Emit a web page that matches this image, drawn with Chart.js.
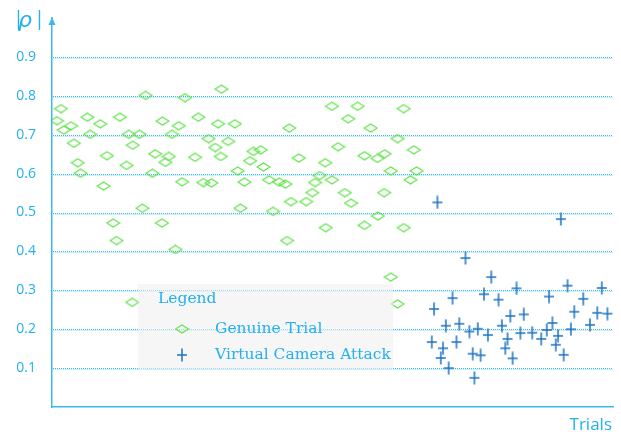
<!DOCTYPE html>
<html>
<head>
<meta charset="utf-8">
<script src="https://cdn.jsdelivr.net/npm/chart.js@4.4.1/dist/chart.umd.min.js"></script>
<style>
  html, body { margin: 0; padding: 0; background: #fff; }
  #wrap { width: 621px; height: 432px; }
</style>
</head>
<body>
<div id="wrap"><canvas id="rho"></canvas></div>
<script>
// |rho| per trial, genuine trials vs virtual camera attacks
const genuineX = [1.6, 0.9, 2.1, 3.4, 3.9, 4.6, 5.1, 6.3, 6.8, 8.6, 9.8, 9.2, 12.1, 13.3, 13.7, 14.4, 15.6, 16.7, 16.1, 17.9,
  18.4, 19.7, 20.2, 20.8, 21.4, 22.6, 23.2, 23.7, 25.5, 26.1, 27.0, 27.9, 28.4, 29.1, 29.6, 30.1, 30.2, 31.4, 32.6, 33.1,
  33.6, 34.3, 35.3, 35.9, 37.2, 37.7, 38.7, 39.4, 40.5, 41.6, 42.3, 42.6, 44.0, 45.3, 46.4, 46.9, 47.7, 48.7, 49.9, 54.5,
  52.8, 56.8, 62.7, 61.6, 51.0, 64.5, 55.7, 58.0, 59.3, 49.9, 60.4, 65.0, 63.9, 52.2, 59.2, 53.3, 58.1, 10.9, 19.6, 11.5,
  22.0, 14.3, 41.9, 48.8, 55.7, 62.7, 60.4, 61.6];
const genuineRho = [0.767, 0.736, 0.712, 0.723, 0.678, 0.628, 0.601, 0.745, 0.701, 0.728, 0.646, 0.568, 0.745, 0.621, 0.701, 0.673, 0.701, 0.801, 0.511, 0.601,
  0.651, 0.735, 0.629, 0.644, 0.701, 0.723, 0.579, 0.795, 0.642, 0.745, 0.577, 0.690, 0.576, 0.667, 0.728, 0.644, 0.817, 0.683, 0.728, 0.607,
  0.511, 0.578, 0.633, 0.657, 0.661, 0.617, 0.584, 0.503, 0.578, 0.573, 0.717, 0.528, 0.640, 0.528, 0.551, 0.577, 0.595, 0.628, 0.773, 0.773,
  0.741, 0.717, 0.767, 0.690, 0.669, 0.661, 0.646, 0.639, 0.651, 0.584, 0.607, 0.607, 0.584, 0.551, 0.551, 0.524, 0.491, 0.473, 0.473, 0.428,
  0.405, 0.269, 0.428, 0.461, 0.467, 0.461, 0.334, 0.265];

const attackX = [68.7, 73.7, 78.3, 82.8, 71.4, 77.0, 79.6, 68.1, 81.7, 70.2, 72.6, 74.4, 75.9, 77.7, 80.2, 67.7, 69.7, 72.1, 81.2, 69.3,
  75.0, 76.4, 80.8, 82.1, 70.7, 75.3, 90.7, 91.9, 98.0, 88.6, 94.7, 84.1, 93.1, 97.2, 99.0, 89.2, 88.2, 95.9, 83.5, 85.6,
  92.5, 87.2, 90.2, 89.8, 91.2];
const attackRho = [0.526, 0.383, 0.334, 0.305, 0.280, 0.290, 0.276, 0.252, 0.234, 0.209, 0.214, 0.194, 0.201, 0.185, 0.209, 0.167, 0.151, 0.167, 0.175, 0.126,
  0.137, 0.133, 0.151, 0.125, 0.100, 0.075, 0.483, 0.312, 0.306, 0.284, 0.278, 0.238, 0.245, 0.242, 0.240, 0.216, 0.198, 0.211, 0.190, 0.191,
  0.200, 0.175, 0.183, 0.160, 0.134];

const yTicks = [0.1, 0.2, 0.3, 0.4, 0.5, 0.6, 0.7, 0.8, 0.9];
const seriesNames = ["Genuine Trial", "Virtual Camera Attack"];

const GREEN = "#5ee247";
const BLUE = "#1c74c4";
const SKY = "#22b0ee";
const AXIS = "#3cb9ec";

// flattened diamond and a slightly tall plus, as small canvases used as point styles
function makeDiamond() {
  const c = document.createElement("canvas");
  c.width = 15; c.height = 10;
  const g = c.getContext("2d");
  g.strokeStyle = GREEN;
  g.lineWidth = 1.2;
  g.beginPath();
  g.moveTo(7.5, 1); g.lineTo(14, 5); g.lineTo(7.5, 9); g.lineTo(1, 5);
  g.closePath();
  g.stroke();
  return c;
}

function makePlus() {
  const c = document.createElement("canvas");
  c.width = 12; c.height = 14;
  const g = c.getContext("2d");
  g.strokeStyle = BLUE;
  g.lineWidth = 1.5;
  g.beginPath();
  g.moveTo(6, 0.5); g.lineTo(6, 13.5);
  g.moveTo(1, 7); g.lineTo(11, 7);
  g.stroke();
  return c;
}

const diamond = makeDiamond();
const plus = makePlus();

function toPoints(xs, ys) {
  return xs.map((x, i) => ({ x: x, y: ys[i] }));
}

// dotted horizontal rules at each labelled tick
const dottedGrid = {
  id: "dottedGrid",
  beforeDatasetsDraw(chart) {
    const ctx = chart.ctx;
    const area = chart.chartArea;
    const yScale = chart.scales.y;
    ctx.save();
    yTicks.forEach(v => {
      const y = Math.round(yScale.getPixelForValue(v)) + 0.5;
      ctx.setLineDash([]);
      ctx.strokeStyle = "rgba(120, 208, 245, 0.35)";
      ctx.lineWidth = 1;
      ctx.beginPath();
      ctx.moveTo(area.left + 1, y + 1);
      ctx.lineTo(area.right, y + 1);
      ctx.stroke();
      ctx.setLineDash([1, 1]);
      ctx.strokeStyle = "rgba(30, 175, 235, 0.9)";
      ctx.beginPath();
      ctx.moveTo(area.left + 1, y);
      ctx.lineTo(area.right, y);
      ctx.stroke();
    });
    ctx.restore();
  }
};

// axis arrow, axis titles and the boxed legend
const decorations = {
  id: "decorations",
  afterDatasetsDraw(chart) {
    const ctx = chart.ctx;
    const area = chart.chartArea;
    ctx.save();

    // arrow head on the y axis
    ctx.fillStyle = AXIS;
    ctx.beginPath();
    ctx.moveTo(area.left, area.top - 1);
    ctx.lineTo(area.left + 3.5, area.top + 7);
    ctx.lineTo(area.left - 3.5, area.top + 7);
    ctx.closePath();
    ctx.fill();

    // |rho|
    ctx.fillStyle = SKY;
    ctx.textBaseline = "middle";
    ctx.textAlign = "left";
    ctx.font = "20px 'Open Sans'";
    ctx.fillText("|", 13, 19);
    ctx.font = "italic 22px 'DejaVu Sans'";
    ctx.fillText("\u03C1", 18, 21);
    ctx.font = "20px 'Open Sans'";
    ctx.fillText("|", 34, 19);

    // Trials
    ctx.font = "17px 'Open Sans'";
    ctx.textAlign = "right";
    ctx.textBaseline = "alphabetic";
    ctx.fillText("Trials", 612, 430);

    // legend box
    ctx.fillStyle = "rgba(240, 240, 240, 0.6)";
    ctx.fillRect(138, 284, 255, 85);
    ctx.fillStyle = SKY;
    ctx.textAlign = "left";
    ctx.textBaseline = "middle";
    ctx.font = "15.5px 'DejaVu Serif'";
    ctx.fillText("Legend", 158, 299);
    ctx.drawImage(diamond, 182 - diamond.width / 2, 329 - diamond.height / 2);
    ctx.fillText(seriesNames[0], 215, 329);
    ctx.drawImage(plus, 182 - plus.width / 2, 355 - plus.height / 2);
    ctx.fillText(seriesNames[1], 215, 355);

    ctx.restore();
  }
};

new Chart(document.getElementById("rho"), {
  type: "scatter",
  data: {
    datasets: [{
      label: seriesNames[0],
      data: toPoints(genuineX, genuineRho),
      pointStyle: diamond,
      pointRadius: 7
    }, {
      label: seriesNames[1],
      data: toPoints(attackX, attackRho),
      pointStyle: plus,
      pointRadius: 7
    }]
  },
  options: {
    responsive: true,
    maintainAspectRatio: false,
    animation: false,
    events: [],
    layout: { padding: { left: 0, top: 18, right: 6, bottom: 0 } },
    plugins: {
      legend: { display: false },
      tooltip: { enabled: false }
    },
    scales: {
      x: {
        type: "linear",
        min: 0,
        max: 100,
        ticks: { display: false },
        grid: { display: false },
        border: { display: true, color: AXIS, width: 1.5 },
        afterFit(scale) {
          scale.height = 25;
          scale.paddingLeft = 0;
          scale.paddingRight = 0;
        }
      },
      y: {
        min: 0,
        max: 1.0,
        afterBuildTicks(scale) {
          scale.ticks = [0].concat(yTicks, [1.0]).map(v => ({ value: v }));
        },
        ticks: {
          padding: 16,
          color: SKY,
          font: { family: "'Open Sans'", size: 14 },
          callback: v => yTicks.includes(Math.round(v * 10) / 10) ? v.toFixed(1) : ""
        },
        grid: { display: false, drawTicks: false },
        border: { display: true, color: AXIS, width: 1.5 },
        afterFit(scale) {
          scale.width = 52;
          scale.paddingTop = 0;
          scale.paddingBottom = 0;
        }
      }
    }
  },
  plugins: [dottedGrid, decorations]
});
</script>
</body>
</html>
